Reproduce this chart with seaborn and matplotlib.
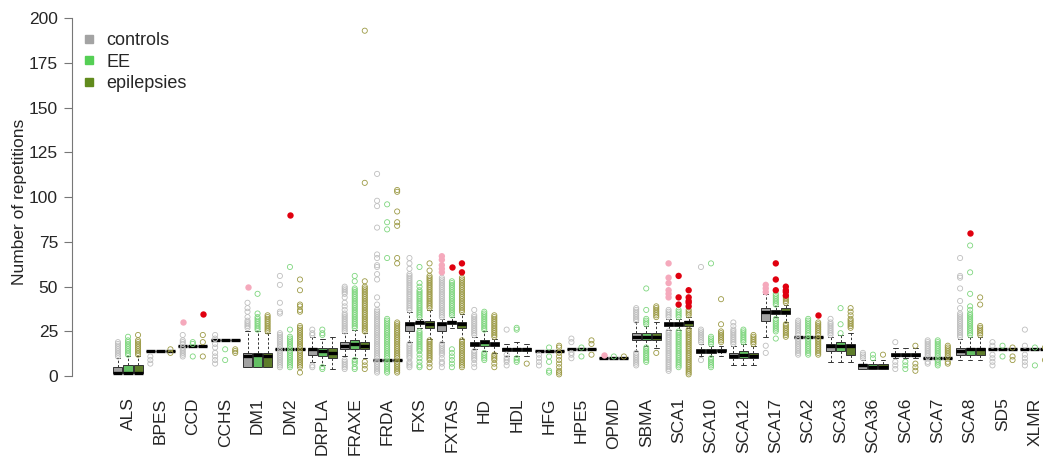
import numpy as np
import pandas as pd
import matplotlib
matplotlib.use('Agg')
import matplotlib.pyplot as plt
import seaborn as sns
from matplotlib.lines import Line2D

# ---------- data ----------
loci = ["ALS", "BPES", "CCD", "CCHS", "DM1", "DM2", "DRPLA", "FRAXE", "FRDA", "FXS",
        "FXTAS", "HD", "HDL", "HFG", "HPE5", "OPMD", "SBMA", "SCA1", "SCA10", "SCA12",
        "SCA17", "SCA2", "SCA3", "SCA36", "SCA6", "SCA7", "SCA8", "SD5", "XLMR"]
groups = ["controls", "EE", "epilepsies"]

# box summaries per locus: (lower whisker, q1, median, q3, upper whisker)
controls_box = [
    (2, 2, 2, 5, 10), (14, 14, 14, 14, 14), (17, 17, 17, 17, 17), (20, 20, 20, 20, 20),
    (5, 5, 11, 13, 25), (15, 15, 15, 15, 15), (8, 12, 15, 16, 22), (11, 15, 17, 19, 24),
    (9, 9, 9, 9, 9), (19, 25, 29, 30, 36), (19, 25, 29, 30, 32), (15, 17, 18, 19, 22),
    (11, 14, 15, 16, 18), (14, 14, 14, 14, 14), (15, 15, 15, 15, 15), (10, 10, 10, 10, 10),
    (14, 20, 22, 24, 30), (26, 28, 29, 30, 32), (11, 13, 14, 15, 18), (6, 10, 11, 13, 17),
    (22, 31, 36, 38, 46), (22, 22, 22, 22, 22), (8, 14, 17, 18, 22), (4, 4, 6, 7, 9),
    (10, 11, 12, 13, 16), (10, 10, 10, 10, 10), (9, 12, 14, 16, 21), (15, 15, 15, 15, 15),
    (15, 15, 15, 15, 15)]
ee_box = [
    (2, 2, 2, 6, 11), (14, 14, 14, 14, 14), (17, 17, 17, 17, 17), (20, 20, 20, 20, 20),
    (5, 5, 12, 13, 25), (15, 15, 15, 15, 15), (6, 11, 14, 16, 21), (10, 15, 18, 20, 26),
    (9, 9, 9, 9, 9), (27, 29, 30, 30, 32), (27, 29, 30, 31, 33), (14, 17, 19, 20, 25),
    (11, 14, 15, 16, 19), (14, 14, 14, 14, 14), (15, 15, 15, 15, 15), (10, 10, 10, 10, 10),
    (17, 20, 22, 24, 28), (26, 28, 29, 30, 32), (11, 13, 14, 15, 17), (6, 10, 12, 14, 18),
    (33, 35, 36, 37, 39), (22, 22, 22, 22, 22), (8, 14, 17, 19, 23), (4, 4, 5, 7, 9),
    (10, 11, 12, 13, 16), (10, 10, 10, 10, 10), (9, 12, 15, 16, 22), (15, 15, 15, 15, 15),
    (15, 15, 15, 15, 15)]
epi_box = [
    (2, 2, 2, 6, 11), (14, 14, 14, 14, 14), (17, 17, 17, 17, 17), (20, 20, 20, 20, 20),
    (5, 5, 11, 13, 24), (15, 15, 15, 15, 15), (4, 10, 13, 16, 22), (10, 15, 17, 19, 24),
    (9, 9, 9, 9, 9), (21, 27, 29, 31, 37), (21, 27, 29, 30, 35), (13, 17, 18, 19, 21),
    (11, 14, 15, 16, 18), (14, 14, 14, 14, 14), (15, 15, 15, 15, 15), (10, 10, 10, 10, 10),
    (16, 20, 22, 24, 30), (27, 28, 30, 31, 33), (11, 14, 14, 15, 17), (6, 10, 11, 13, 17),
    (30, 35, 36, 38, 40), (22, 22, 22, 22, 22), (8, 12, 17, 18, 24), (4, 4, 5, 7, 9),
    (10, 11, 12, 13, 16), (10, 10, 10, 10, 10), (9, 12, 15, 16, 22), (15, 15, 15, 15, 15),
    (15, 15, 15, 15, 15)]

# outlying values (open circles)
controls_out = {
    "ALS": [11, 12, 13, 14, 15, 16, 17, 18, 19],
    "BPES": [7, 9, 11],
    "CCD": [11, 12, 13, 14, 15, 16, 18, 19, 20, 23],
    "CCHS": [7, 9, 11, 13, 16, 18, 21, 23],
    "DM1": [27, 28, 29, 30, 31, 33, 36, 38, 41],
    "DM2": [5, 6, 7, 8, 9, 10, 11, 12, 13, 14, 16, 17, 18, 19, 20, 21, 22, 23, 24, 35, 36, 41, 51, 56],
    "DRPLA": [5, 6, 23, 24, 26],
    "FRAXE": [4, 5, 6, 7, 8, 9, 25, 26, 27, 28, 29, 30, 31, 32, 33, 34, 35, 37, 39, 41, 44,
              46, 47, 48, 49, 50],
    "FRDA": [2, 3, 4, 5, 6, 7, 8, 10, 11, 12, 13, 14, 15, 16, 17, 18, 19, 20, 21, 22, 23, 24,
             25, 26, 27, 28, 29, 30, 31, 32, 33, 34, 35, 36, 37, 40, 44, 54, 57, 61, 62, 66,
             68, 83, 95, 98, 113],
    "FXS": [5, 6, 7, 8, 10, 11, 12, 13, 14, 15, 16, 17, 18, 37, 38, 39, 40, 41, 42, 43, 44,
            45, 46, 47, 48, 49, 50, 51, 52, 53, 54, 55, 56, 57, 60, 63, 66],
    "FXTAS": [5, 7, 8, 10, 12, 13, 14, 15, 16, 17, 18, 33, 34, 35, 36, 37, 38, 39, 40, 41,
              42, 43, 44, 45, 46, 47, 48, 49, 50, 51, 52, 53, 54, 55],
    "HD": [5, 7, 9, 10, 11, 12, 13, 14, 23, 24, 25, 26, 27, 28, 29, 30, 31, 32, 33, 34, 37],
    "HDL": [6, 8, 9, 10, 12, 26],
    "HFG": [6, 8, 10, 12],
    "HPE5": [10, 12, 13, 19, 21],
    "SBMA": [6, 7, 8, 9, 10, 11, 12, 13, 31, 32, 33, 34, 35, 36, 37, 38],
    "SCA1": [3, 4, 5, 6, 7, 8, 9, 10, 11, 12, 13, 14, 15, 16, 17, 18, 19, 20, 21, 22, 23, 24,
             25, 33, 34, 35, 36, 37],
    "SCA10": [9, 19, 20, 21, 22, 23, 24, 25, 26, 61],
    "SCA12": [18, 19, 20, 21, 22, 23, 24, 25, 26, 28, 30],
    "SCA17": [13, 17],
    "SCA2": [12, 13, 14, 15, 16, 17, 18, 19, 20, 21, 23, 24, 25, 26, 27, 28, 29, 30, 31],
    "SCA3": [23, 24, 25, 26, 27, 28, 29, 30, 32],
    "SCA36": [10, 11, 12, 13],
    "SCA6": [4, 6, 8, 19],
    "SCA7": [7, 8, 11, 12, 13, 14, 15, 16, 17, 18, 19, 20],
    "SCA8": [22, 23, 24, 25, 26, 27, 28, 29, 30, 31, 32, 33, 34, 35, 38, 42, 49, 55, 56, 66],
    "SD5": [6, 8, 10, 12, 17, 19],
    "XLMR": [6, 8, 10, 12, 17, 26],
}
ee_out = {
    "ALS": [12, 13, 14, 15, 16, 17, 18, 19, 20, 22],
    "CCD": [11, 18, 19],
    "CCHS": [9, 15],
    "DM1": [26, 27, 28, 29, 30, 31, 32, 33, 35, 46],
    "DM2": [5, 6, 7, 8, 9, 10, 11, 12, 13, 14, 16, 17, 18, 19, 20, 21, 22, 26, 61],
    "DRPLA": [4, 5, 23, 24, 26],
    "FRAXE": [4, 5, 7, 8, 9, 27, 28, 29, 30, 31, 32, 33, 34, 35, 36, 37, 38, 39, 40, 41, 42,
              43, 44, 45, 46, 47, 48, 49, 53, 56],
    "FRDA": [2, 3, 4, 5, 6, 7, 8, 10, 11, 12, 13, 14, 15, 16, 17, 18, 19, 20, 21, 22, 23, 24,
             25, 26, 27, 28, 29, 30, 31, 32, 66, 82, 86, 96],
    "FXS": [5, 6, 8, 10, 12, 14, 15, 16, 17, 18, 19, 20, 21, 22, 23, 24, 25, 33, 34, 35, 36,
            37, 38, 39, 40, 41, 42, 43, 44, 45, 46, 47, 48, 50, 52, 61],
    "FXTAS": [5, 7, 9, 11, 13, 15, 34, 35, 36, 37, 38, 39, 40, 41, 42, 43, 44, 45, 46, 47, 48,
              49, 50, 51, 52, 53],
    "HD": [9, 10, 11, 12, 13, 26, 27, 28, 29, 30, 31, 32, 33, 34, 35, 36],
    "HDL": [8, 9, 10, 26, 27],
    "HFG": [2, 3, 8, 11, 16],
    "HPE5": [11, 16],
    "OPMD": [11],
    "SBMA": [8, 9, 10, 11, 12, 13, 14, 15, 16, 29, 30, 31, 32, 37, 49],
    "SCA1": [5, 6, 7, 8, 9, 10, 11, 12, 13, 14, 15, 16, 17, 18, 19, 20, 21, 22, 23, 24, 25,
             33, 34, 35, 36, 37],
    "SCA10": [5, 6, 7, 8, 9, 10, 18, 19, 20, 21, 22, 63],
    "SCA12": [19, 20, 21, 22, 23, 24, 25, 26],
    "SCA17": [21, 25, 26, 27, 28, 29, 30, 31, 32, 40, 41, 42, 43, 44, 45, 46],
    "SCA2": [12, 13, 14, 15, 16, 17, 18, 19, 20, 21, 23, 24, 25, 26, 27, 28, 29, 30, 31, 32],
    "SCA3": [24, 29, 38],
    "SCA36": [10, 12],
    "SCA6": [4, 6, 8],
    "SCA7": [6, 7, 8, 9, 11, 12, 13, 14, 15, 16, 17, 18, 19, 20],
    "SCA8": [23, 24, 25, 26, 27, 28, 29, 30, 31, 32, 33, 34, 35, 37, 39, 46, 58, 73],
    "SD5": [11, 17],
    "XLMR": [6, 16],
}
epi_out = {
    "ALS": [12, 13, 14, 15, 16, 17, 18, 19, 20, 23],
    "BPES": [13, 15],
    "CCD": [11, 19, 23],
    "CCHS": [13, 14, 15],
    "DM1": [25, 26, 27, 28, 29, 30, 31, 32, 33, 34],
    "DM2": [2, 5, 6, 7, 8, 9, 10, 11, 12, 13, 14, 16, 17, 18, 19, 20, 21, 22, 23, 24, 25, 26,
            27, 28, 36, 37, 39, 40, 48, 54],
    "FRAXE": [4, 6, 8, 25, 26, 27, 28, 29, 30, 31, 32, 33, 34, 35, 36, 37, 38, 39, 40, 41, 42,
              43, 44, 45, 46, 47, 48, 49, 50, 53, 108, 193],
    "FRDA": [2, 3, 4, 5, 6, 7, 8, 10, 11, 12, 13, 14, 15, 16, 17, 18, 19, 20, 21, 22, 23, 24,
             25, 26, 27, 28, 29, 30, 63, 66, 84, 86, 92, 103, 104],
    "FXS": [5, 7, 9, 10, 11, 12, 13, 14, 15, 16, 17, 18, 19, 20, 38, 39, 40, 41, 42, 43, 44,
            45, 46, 47, 48, 49, 50, 51, 52, 53, 54, 55, 56, 59, 63],
    "FXTAS": [5, 6, 7, 8, 9, 10, 11, 12, 13, 14, 15, 16, 17, 18, 19, 20, 36, 37, 38, 39, 40,
              41, 42, 43, 44, 45, 46, 47, 48, 49, 50, 51, 52, 53, 54, 55],
    "HD": [5, 7, 9, 10, 11, 12, 22, 23, 24, 25, 26, 27, 28, 29, 30, 31, 32, 33, 34],
    "HDL": [7],
    "HFG": [1, 2, 3, 5, 7, 9, 11, 13, 16, 17],
    "HPE5": [12, 18, 20],
    "OPMD": [11],
    "SBMA": [13, 33, 34, 35, 36, 37, 38, 39],
    "SCA1": [1, 2, 3, 4, 5, 6, 7, 8, 9, 10, 11, 12, 13, 14, 15, 16, 17, 18, 19, 20, 21, 22,
             23, 24, 25, 26, 34, 35, 36, 37],
    "SCA10": [19, 20, 21, 22, 23, 24, 25, 29, 43],
    "SCA12": [18, 19, 20, 21, 22, 23],
    "SCA17": [22, 23, 24, 25, 26, 27, 28, 29, 41, 42, 43, 44, 45],
    "SCA2": [12, 13, 14, 15, 16, 17, 18, 19, 20, 21, 23, 24, 25, 26, 27, 28, 29, 30],
    "SCA3": [27, 28, 29, 30, 31, 32, 34, 36, 38],
    "SCA36": [12],
    "SCA6": [3, 5, 7, 17],
    "SCA7": [7, 8, 11, 12, 13, 14, 15, 16, 17],
    "SCA8": [23, 24, 25, 26, 27, 28, 40, 44],
    "SD5": [9, 11, 16],
    "XLMR": [9, 16],
}

# pathogenic-range values (filled dots)
controls_path = {"CCD": [30], "DM1": [50], "FXTAS": [58, 60, 62, 65, 67],
                 "OPMD": [12], "SCA1": [44, 46, 48, 52, 55, 63],
                 "SCA17": [47, 49, 51]}
ee_path = {"DM2": [90], "FXTAS": [61], "SCA1": [40, 44, 56], "SCA17": [48, 54, 63],
           "SCA8": [80]}
epi_path = {"CCD": [35], "FXTAS": [58, 63], "SCA1": [39, 41, 42, 44, 48],
            "SCA17": [45, 47, 48, 50], "SCA2": [34]}

box_colors = {"controls": "#A3A3A3", "EE": "#55CF55", "epilepsies": "#618B1D"}
circle_colors = {"controls": "#BEBEBE", "EE": "#7ED67E", "epilepsies": "#9C9A45"}
path_colors = {"controls": "#F5A9BC", "EE": "#E0000F", "epilepsies": "#E0000F"}

# ---------- long tables ----------
rows = []
for grp, stats in zip(groups, [controls_box, ee_box, epi_box]):
    for locus, s in zip(loci, stats):
        for v in s:
            rows.append((locus, grp, v))
box_df = pd.DataFrame(rows, columns=["locus", "group", "value"])


def long_points(dicts):
    out = []
    for grp, d in zip(groups, dicts):
        for locus, vals in d.items():
            for v in vals:
                out.append((locus, grp, v))
    return pd.DataFrame(out, columns=["locus", "group", "value"])


out_df = long_points([controls_out, ee_out, epi_out])
path_df = long_points([controls_path, ee_path, epi_path])

# ---------- plot ----------
sns.set_style("ticks")
plt.rcParams["font.family"] = ["Liberation Sans", "DejaVu Sans"]

BOX_W = 0.93
fig = plt.figure(figsize=(10.43, 4.59), dpi=100)
ax = fig.add_axes([0.069, 0.161, 0.931, 0.815])

sns.boxplot(data=box_df, x="locus", y="value", hue="group", order=loci, hue_order=groups,
            palette=box_colors, width=BOX_W, gap=0.1, whis=(0, 100), showfliers=False,
            linewidth=0.7, linecolor="#333333",
            medianprops=dict(color="black", linewidth=2.4, solid_capstyle="butt"),
            whiskerprops=dict(linestyle=(0, (2.5, 2)), color="#333333"),
            capprops=dict(color="#333333"),
            legend=False, ax=ax)


def stretch_dodge(collections):
    # stripplot dodges over a 0.8 width; line the points up with the wider boxes
    for c in collections:
        off = c.get_offsets()
        if len(off) == 0:
            continue
        off = np.asarray(off, dtype=float)
        centre = np.round(off[:, 0])
        off[:, 0] = centre + (off[:, 0] - centre) * (BOX_W / 0.8)
        c.set_offsets(off)


n0 = len(ax.collections)
sns.stripplot(data=out_df, x="locus", y="value", hue="group", order=loci, hue_order=groups,
              palette=circle_colors, dodge=True, jitter=False, size=3.7, linewidth=0,
              legend=False, ax=ax)
for c in ax.collections[n0:]:
    fc = c.get_facecolors()
    c.set_edgecolors(fc)
    c.set_facecolors("none")
    c.set_linewidth(0.6)
stretch_dodge(ax.collections[n0:])

n1 = len(ax.collections)
sns.stripplot(data=path_df, x="locus", y="value", hue="group", order=loci, hue_order=groups,
              palette=path_colors, dodge=True, jitter=False, size=4.6, linewidth=0,
              legend=False, ax=ax)
stretch_dodge(ax.collections[n1:])

ax.set_xlim(-1.73, 28.25)
ax.set_ylim(-5, 204)
ax.set_yticks([0, 25, 50, 75, 100, 125, 150, 175, 200])
for side in ["top", "right", "bottom"]:
    ax.spines[side].set_visible(False)
ax.spines["left"].set_bounds(0, 200)
ax.spines["left"].set_color("#777777")
ax.spines["left"].set_linewidth(0.8)
ax.tick_params(axis="y", length=6, width=0.8, color="#777777", labelsize=12.5, pad=4)
ax.tick_params(axis="x", length=0, labelsize=12.5, labelrotation=90, pad=9)
ax.set_xlabel("")
ax.set_ylabel("Number of repetitions", fontsize=12.5)
ax.yaxis.set_label_coords(-0.046, 0.49)

handles = [Line2D([], [], marker="s", linestyle="", markersize=6,
                  color=box_colors[g], label=g) for g in groups]
fig.legend(handles=handles, loc="upper left", bbox_to_anchor=(0.078, 0.93),
           bbox_transform=fig.transFigure, frameon=False, fontsize=13,
           borderpad=0, borderaxespad=0, handlelength=0.8, handletextpad=0.6,
           labelspacing=0.25)

fig.savefig("out.png", dpi=100)
